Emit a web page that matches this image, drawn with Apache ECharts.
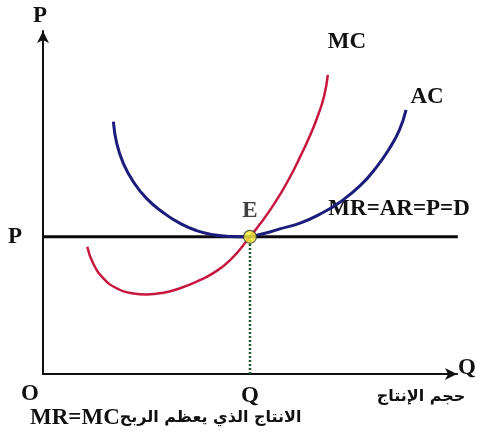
<!DOCTYPE html>
<html><head><meta charset="utf-8">
<script src="https://cdn.jsdelivr.net/npm/echarts@6/dist/echarts.min.js"></script>
<style>html,body{margin:0;padding:0;background:#fff}#c{width:477px;height:436px}</style>
</head><body><div id="c"></div>
<script>
// Perfect competition: firm equilibrium where MR = AR = P = D touches the AC minimum
const equilibrium = [50, 40];               // point E (Q, P)
const priceLevel = 40;                      // MR=AR=P=D
const priceLineEnd = 100.2;
const mcCurve = [
  [10.7, 37.1], [12.1, 32.3], [14.6, 27.9], [17.8, 25.0], [21.8, 23.5],
  [25.0, 23.2], [29.1, 23.7], [33.1, 25.0], [37.1, 26.9], [41.1, 29.4],
  [45.2, 33.2], [50.0, 40.0], [52.4, 43.7], [54.8, 47.7], [57.2, 52.2],
  [59.7, 57.5], [62.1, 63.3], [64.5, 69.5], [66.4, 75.3], [67.9, 81.0],
  [68.8, 87.2]
];
const acCurve = [
  [17.0, 73.6], [17.8, 67.3], [19.4, 61.4], [21.8, 56.1], [25.0, 51.2],
  [29.1, 47.0], [33.1, 43.9], [37.1, 41.8], [41.1, 40.6], [45.2, 40.1],
  [50.0, 40.0], [52.4, 40.7], [54.8, 41.4], [57.2, 42.3], [62.1, 44.0],
  [66.9, 46.6], [71.7, 50.1], [76.6, 54.9], [80.6, 60.4], [83.7, 65.8],
  [86.1, 71.2], [87.7, 77.0]
];
const axisNames = { price: 'P', quantity: 'Q' };
const tickLabels = { origin: 'O', quantity: 'Q', price: 'P' };
const curveNames = { mc: 'MC', ac: 'AC', demand: 'MR=AR=P=D', eq: 'E' };
const xCaption = 'حجم الإنتاج';
const ruleLatin = 'MR=MC';
const ruleArabic = 'الانتاج الذي يعظم الربح';

const serif = '"Liberation Serif", "DejaVu Serif", serif';
const arabicFont = '"DejaVu Sans", "Noto Sans", sans-serif';
const bold = { fontFamily: serif, fontWeight: 'bold', fontSize: 23, color: '#111' };
const boldFont = 'bold 23px ' + serif;

const chart = echarts.init(document.getElementById('c'), null, { renderer: 'canvas' });

const axisLine = { show: true, symbol: ['none', 'arrow'], symbolSize: [9, 12], lineStyle: { color: '#111', width: 2 } };

chart.setOption({
  animation: false,
  backgroundColor: '#fff',
  grid: { left: 43, right: 20, top: 31, bottom: 62 },
  xAxis: {
    type: 'value', min: 0, max: 100,
    axisLine, axisTick: { show: false }, splitLine: { show: false },
    axisLabel: {
      customValues: [equilibrium[0]],
      formatter: () => tickLabels.quantity,
      margin: 11, ...bold
    }
  },
  yAxis: {
    type: 'value', min: 0, max: 100,
    axisLine, axisTick: { show: false }, splitLine: { show: false },
    axisLabel: {
      customValues: [priceLevel],
      formatter: () => tickLabels.price,
      margin: 21, ...bold
    }
  },
  series: [
    {
      name: 'Q*', type: 'line', silent: true, symbol: 'none',
      data: [[equilibrium[0], 0], [equilibrium[0], equilibrium[1]]],
      lineStyle: { color: '#1f5a2a', width: 2.5, type: [2, 2] }, z: 2
    },
    {
      name: curveNames.demand, type: 'line', silent: true, symbol: 'none', clip: false,
      data: [[0, priceLevel], [priceLineEnd, priceLevel]],
      lineStyle: { color: '#0a0a0a', width: 3 }, z: 3
    },
    {
      name: curveNames.mc, type: 'line', silent: true, symbol: 'none', smooth: 0.5,
      data: mcCurve, lineStyle: { color: '#c8173f', width: 2.5 }, z: 4
    },
    {
      name: curveNames.ac, type: 'line', silent: true, symbol: 'none', smooth: 0.5,
      data: acCurve, lineStyle: { color: '#1c1c7c', width: 3 }, z: 5
    },
    {
      name: curveNames.eq, type: 'scatter', silent: true,
      data: [equilibrium], symbolSize: 13,
      itemStyle: { color: '#f5ee30', borderColor: '#333', borderWidth: 1.2 },
      label: { show: true, position: 'top', distance: 7, formatter: curveNames.eq, ...bold },
      z: 10
    }
  ]
});

// Text placed relative to points on the axes and curves
const px = (p) => chart.convertToPixel({ gridIndex: 0 }, p);
const mcEnd = px(mcCurve[mcCurve.length - 1]);
const acEnd = px(acCurve[acCurve.length - 1]);
const lineEnd = px([priceLineEnd, priceLevel]);
const origin = px([0, 0]);
const yTop = px([0, 100]);
const xEnd = px([100, 0]);

const txt = (x, y, text, align) => ({
  type: 'text', x, y,
  style: { text, font: boldFont, fill: '#111', align: align || 'center', verticalAlign: 'middle' }
});

chart.setOption({
  graphic: [
    txt(yTop[0] - 3, yTop[1] - 15, axisNames.price),
    txt(xEnd[0] + 10, xEnd[1] - 6, axisNames.quantity),
    txt(mcEnd[0] + 19, mcEnd[1] - 33, curveNames.mc),
    txt(acEnd[0] + 21, acEnd[1] - 13, curveNames.ac),
    txt(lineEnd[0] + 12, lineEnd[1] - 28, curveNames.demand, 'right'),
    txt(origin[0] - 13, origin[1] + 20, tickLabels.origin),
    { type: 'text', x: 421, y: 397,
      style: { text: xCaption, font: 'bold 16px ' + arabicFont, fill: '#111', align: 'center', verticalAlign: 'middle' } },
    { type: 'text', x: 30, y: 418,
      style: {
        text: '{a|' + ruleLatin + '}{b|' + ruleArabic + '}',
        align: 'left', verticalAlign: 'middle',
        rich: {
          a: { font: boldFont, fill: '#111' },
          b: { font: 'bold 16px ' + arabicFont, fill: '#111' }
        }
      } }
  ]
});
</script>
</body></html>
